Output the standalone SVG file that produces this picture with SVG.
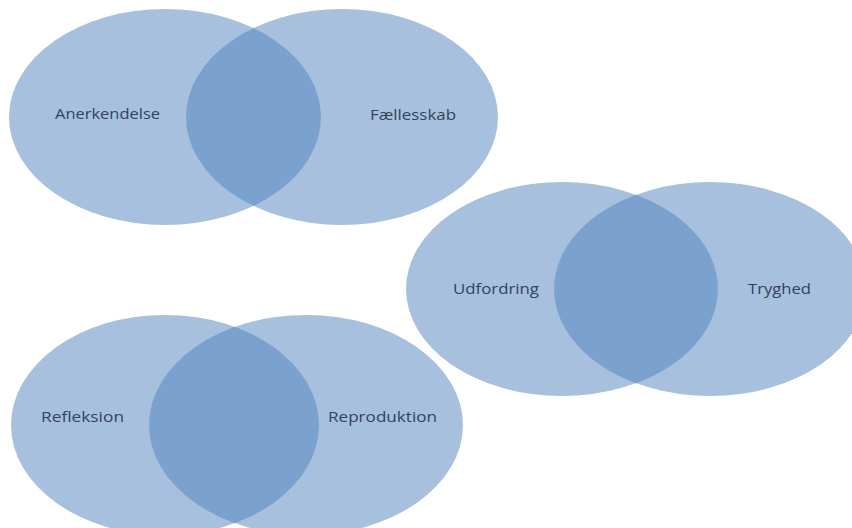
<svg xmlns="http://www.w3.org/2000/svg" width="852" height="528" viewBox="0 0 852 528">
  <style>
    .set { fill: #4f81bd; fill-opacity: 0.5; }
    .lbl { font-family: "Open Sans", "Liberation Sans", sans-serif; font-size: 15px; fill: #34435c; text-anchor: start; }
  </style>
  <rect width="852" height="528" fill="#ffffff"/>
  <g id="venn-top">
    <g id="node-anerkendelse">
      <ellipse class="set" cx="165" cy="117" rx="156" ry="108"/>
      <text class="lbl" x="55" y="119" textLength="105" lengthAdjust="spacingAndGlyphs">Anerkendelse</text>
    </g>
    <g id="node-faellesskab">
      <ellipse class="set" cx="342" cy="117" rx="156" ry="108"/>
      <text class="lbl" x="370" y="120" textLength="86" lengthAdjust="spacingAndGlyphs">Fællesskab</text>
    </g>
  </g>
  <g id="venn-middle">
    <g id="node-udfordring">
      <ellipse class="set" cx="562" cy="289" rx="156" ry="107"/>
      <text class="lbl" x="453" y="294" textLength="86" lengthAdjust="spacingAndGlyphs">Udfordring</text>
    </g>
    <g id="node-tryghed">
      <ellipse class="set" cx="710" cy="289" rx="156" ry="107"/>
      <text class="lbl" x="748" y="294" textLength="63" lengthAdjust="spacingAndGlyphs">Tryghed</text>
    </g>
  </g>
  <g id="venn-bottom">
    <g id="node-refleksion">
      <ellipse class="set" cx="165" cy="425" rx="154" ry="110"/>
      <text class="lbl" x="41" y="422" textLength="83" lengthAdjust="spacingAndGlyphs">Refleksion</text>
    </g>
    <g id="node-reproduktion">
      <ellipse class="set" cx="306" cy="425" rx="157" ry="110"/>
      <text class="lbl" x="328" y="422" textLength="109" lengthAdjust="spacingAndGlyphs">Reproduktion</text>
    </g>
  </g>
  <g id="connectors"/>
</svg>
